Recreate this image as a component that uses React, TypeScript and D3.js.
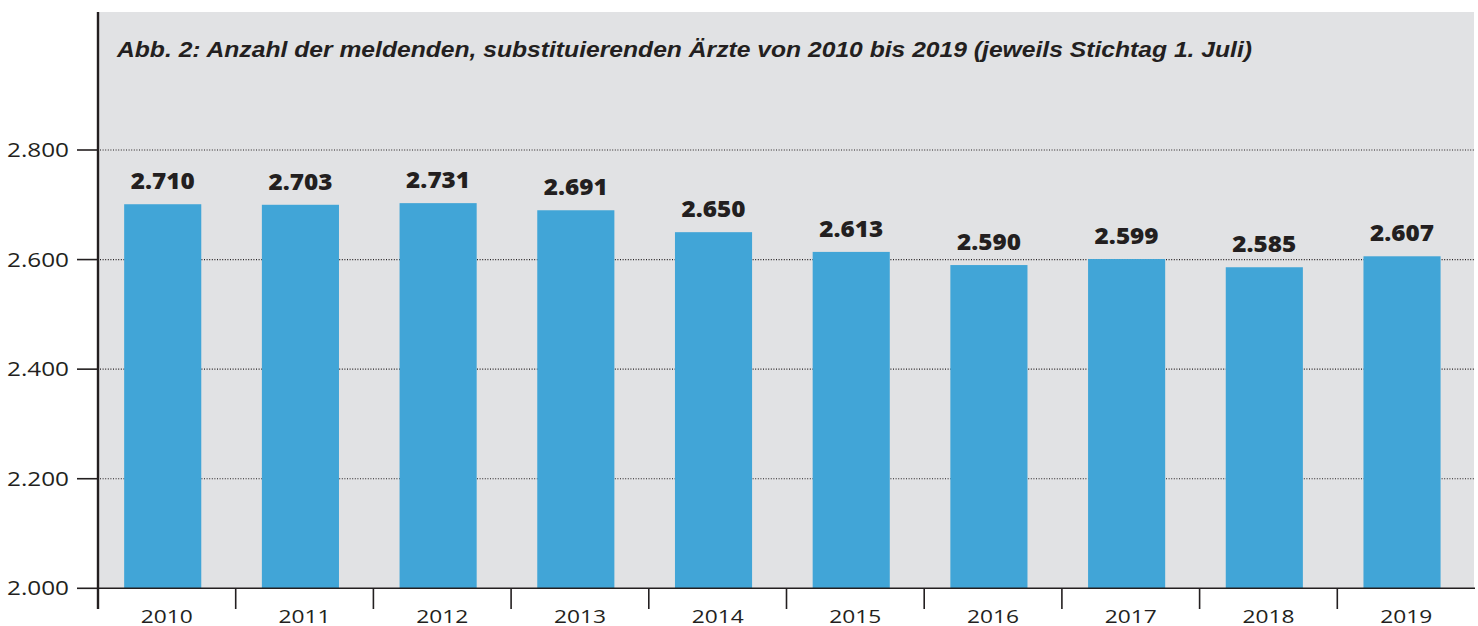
import React from "react";
import * as d3 from "d3";

const years = ["2010", "2011", "2012", "2013", "2014", "2015", "2016", "2017", "2018", "2019"];
// printed value labels
const labelValues = [2710, 2703, 2731, 2691, 2650, 2613, 2590, 2599, 2585, 2607];
// bar heights as drawn in the picture
const barValues = [2701, 2700, 2703, 2690, 2650, 2614, 2590, 2601, 2586, 2606];
const yTicks = [2000, 2200, 2400, 2600, 2800];
const title = "Abb. 2: Anzahl der meldenden, substituierenden Ärzte von 2010 bis 2019 (jeweils Stichtag 1. Juli)";

const W = 1478;
const H = 626;
const fmt = (v: number) => d3.format(",")(v).replace(/,/g, ".");

export default function App() {
  const x = d3.scaleBand<string>().domain(years).range([98, 1475]).padding(0);
  const y = d3.scaleLinear().domain([2000, 2800]).range([588.3, 150]);
  const bw = x.bandwidth();
  const barW = bw * 0.56;
  const barOff = bw * 0.19;
  const ink = "#231F20";
  const panelTop = 12;
  const panelRight = 1474;

  return (
    <svg
      width={W}
      height={H}
      style={{ position: "absolute", left: 0, top: 0, background: "#fff" }}
    >
      <rect x={98} y={panelTop} width={panelRight - 98} height={y(2000) - panelTop} fill="#E1E2E4" />
      {yTicks.filter((t) => t !== 2000).map((t) => (
        <line
          key={"g" + t}
          x1={100}
          x2={panelRight}
          y1={y(t)}
          y2={y(t)}
          stroke={ink}
          strokeWidth={1.2}
          strokeDasharray="1 1.6"
        />
      ))}
      {years.map((yr, i) => {
        const bx = (x(yr) as number) + barOff;
        const top = y(barValues[i]);
        return (
          <g key={yr}>
            <rect x={bx} y={top} width={barW} height={y(2000) - top} fill="#41A5D7" />
            <text
              x={bx + barW / 2}
              y={top - 15}
              textAnchor="middle"
              fontFamily="'Open Sans', sans-serif"
              fontWeight={800}
              fontSize={23}
              fill={ink}
              textLength={64}
              lengthAdjust="spacingAndGlyphs"
            >
              {fmt(labelValues[i])}
            </text>
          </g>
        );
      })}
      <line x1={98} x2={panelRight + 1} y1={y(2000)} y2={y(2000)} stroke={ink} strokeWidth={1.6} />
      <line x1={98} x2={98} y1={panelTop} y2={609} stroke={ink} strokeWidth={2.4} />
      {years.slice(1).map((yr) => (
        <line key={"t" + yr} x1={x(yr)} x2={x(yr)} y1={y(2000)} y2={609} stroke={ink} strokeWidth={1.6} />
      ))}
      {years.map((yr) => (
        <text
          key={"xl" + yr}
          x={(x(yr) as number) + bw / 2}
          y={622.5}
          textAnchor="middle"
          fontFamily="'Open Sans', sans-serif"
          fontSize={19}
          fill={ink}
          textLength={52}
          lengthAdjust="spacingAndGlyphs"
        >
          {yr}
        </text>
      ))}
      {yTicks.map((t) => (
        <g key={"yt" + t}>
          <line x1={77} x2={98} y1={y(t)} y2={y(t)} stroke={ink} strokeWidth={1.6} />
          <text
            x={69}
            y={y(t) + 7}
            textAnchor="end"
            fontFamily="'Open Sans', sans-serif"
            fontSize={19.5}
            fill={ink}
            textLength={62}
            lengthAdjust="spacingAndGlyphs"
          >
            {fmt(t)}
          </text>
        </g>
      ))}
      <text
        x={117}
        y={57}
        fontFamily="'Liberation Sans', Arial, sans-serif"
        fontWeight={700}
        fontStyle="italic"
        fontSize={21.5}
        fill={ink}
        textLength={1135}
        lengthAdjust="spacingAndGlyphs"
      >
        {title}
      </text>
    </svg>
  );
}
